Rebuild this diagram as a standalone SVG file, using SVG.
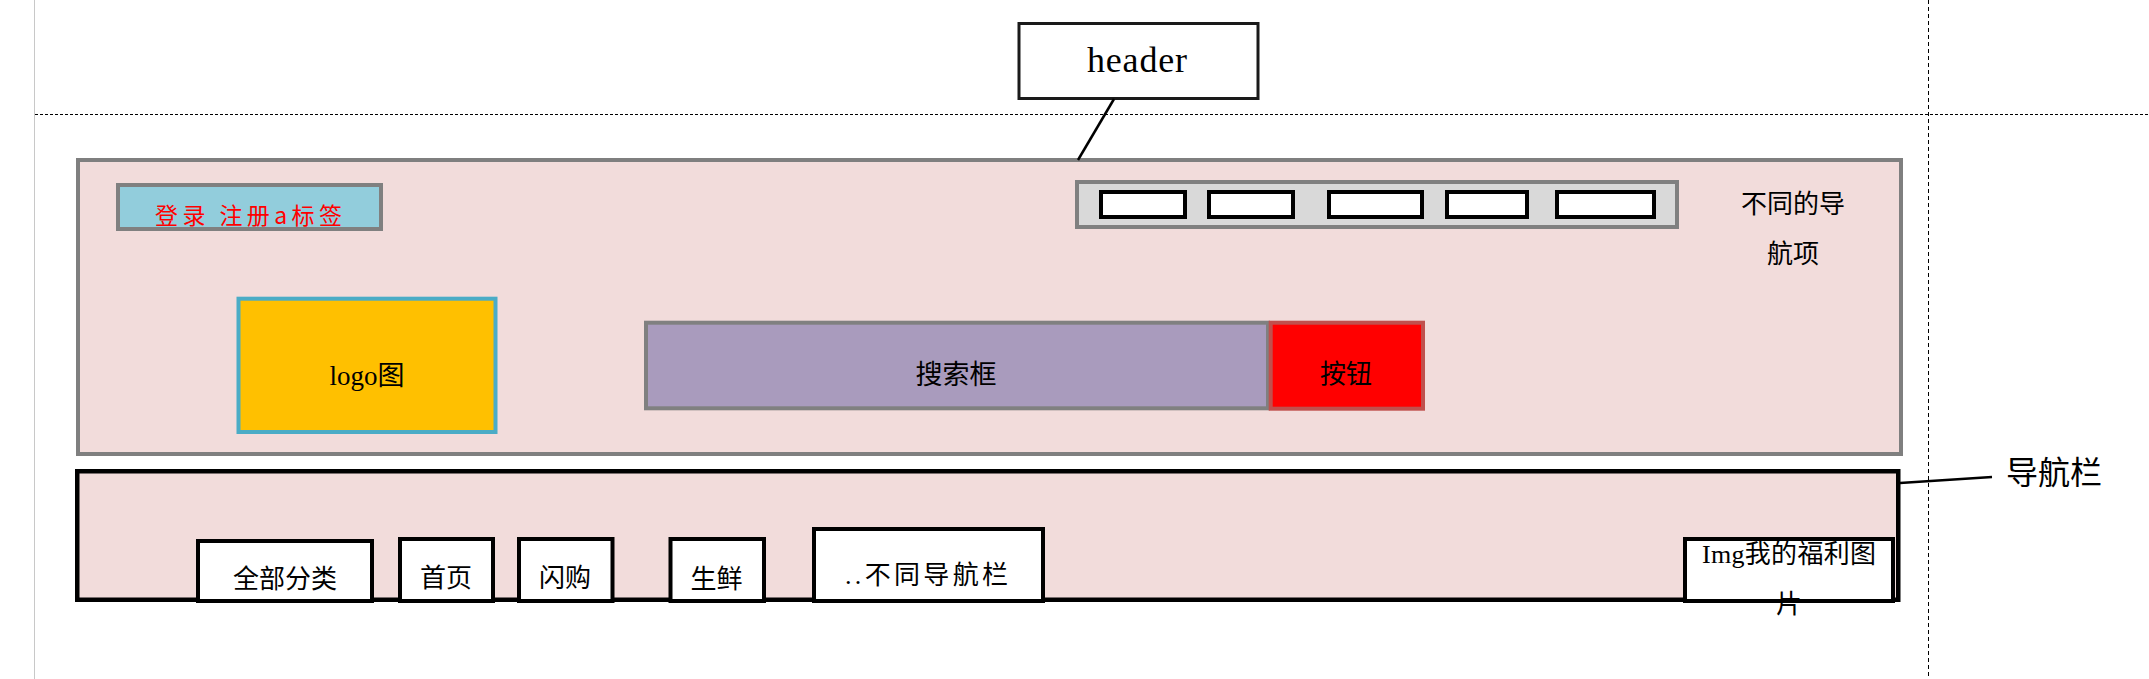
<svg xmlns="http://www.w3.org/2000/svg" width="2149" height="679" viewBox="0 0 2149 679">
<style>
.t{font-family:"Liberation Serif","Noto Sans CJK SC",serif;fill:#000;text-anchor:middle}
.c{font-family:"Noto Sans CJK SC",sans-serif;fill:#000;text-anchor:middle}
.item{fill:#fff;stroke:#000;stroke-width:4}
.pink{fill:#F2DCDB}
.conn{stroke:#000;stroke-width:2.5;fill:none}
</style>
<rect x="0" y="0" width="2149" height="679" fill="#fff"/>
<g id="guides">
<line x1="34.5" y1="0" x2="34.5" y2="679" stroke="#C8C8C8" stroke-width="1"/>
<line x1="35" y1="114.5" x2="2149" y2="114.5" stroke="#000" stroke-width="1" stroke-dasharray="3 2"/>
<line x1="1928.5" y1="0" x2="1928.5" y2="679" stroke="#000" stroke-width="1" stroke-dasharray="4 3"/>
</g>
<g id="header-label">
<rect x="1019" y="23.5" width="239" height="75" fill="#fff" stroke="#1a1a1a" stroke-width="3"/>
<text class="t" x="1137" y="71.5" font-size="36" textLength="100" lengthAdjust="spacing">header</text>
</g>
<g id="header-box">
<rect class="pink" x="78" y="160" width="1823" height="294" stroke="#7F7F7F" stroke-width="4"/>
</g>
<g id="login">
<rect x="118" y="185" width="263" height="44" fill="#92CDDC" stroke="#808080" stroke-width="4"/>
<text class="c" x="248.5" y="224" font-size="23" style="fill:#FF0000" textLength="187" lengthAdjust="spacing">登录 注册a标签</text>
</g>
<g id="nav-items-top">
<rect x="1077" y="182" width="600" height="45" fill="#D9D9D9" stroke="#808080" stroke-width="4"/>
<rect class="item" x="1101" y="192" width="84" height="25"/>
<rect class="item" x="1209" y="192" width="84" height="25"/>
<rect class="item" x="1329" y="192" width="93" height="25"/>
<rect class="item" x="1447" y="192" width="80" height="25"/>
<rect class="item" x="1557" y="192" width="97" height="25"/>
</g>
<g id="nav-note">
<text class="c" x="1793" y="212.5" font-size="26">不同的导</text>
<text class="c" x="1793" y="262.5" font-size="26">航项</text>
</g>
<g id="logo">
<rect x="238.5" y="298.7" width="257" height="133.3" fill="#FFC000" stroke="#4BACC6" stroke-width="4"/>
<text class="t" x="367" y="384.5" font-size="27">logo图</text>
</g>
<g id="search">
<rect x="646" y="322.7" width="622" height="85.6" fill="#A99BBD" stroke="#808080" stroke-width="4"/>
<text class="c" x="956" y="383.5" font-size="27">搜索框</text>
</g>
<g id="button">
<rect x="1270.7" y="322.7" width="152.3" height="86" fill="#FF0000" stroke="#C0504D" stroke-width="4"/>
<text class="c" x="1346" y="382.5" font-size="26">按钮</text>
</g>
<g id="navbar">
<rect class="pink" x="77.25" y="471.25" width="1821" height="128.5" stroke="#000" stroke-width="4.5"/>
</g>
<g id="nav-all">
<rect class="item" x="198" y="541" width="174" height="60"/>
<text class="c" x="285" y="587.5" font-size="26">全部分类</text>
</g>
<g id="nav-home">
<rect class="item" x="400" y="539" width="93" height="62"/>
<text class="c" x="446" y="586.5" font-size="26">首页</text>
</g>
<g id="nav-flash">
<rect class="item" x="519" y="539" width="93.5" height="62"/>
<text class="c" x="565" y="586.5" font-size="26">闪购</text>
</g>
<g id="nav-fresh">
<rect class="item" x="670.5" y="539" width="93.5" height="62"/>
<text class="c" x="716.5" y="588" font-size="26">生鲜</text>
</g>
<g id="nav-more">
<rect class="item" x="814" y="529" width="229" height="72"/>
<text class="t" x="926.5" y="583.5" font-size="26" textLength="163" lengthAdjust="spacing">..不同导航栏</text>
</g>
<g id="nav-img">
<rect class="item" x="1685" y="539" width="208" height="62"/>
<text class="t" x="1789" y="562.5" font-size="26" textLength="174" lengthAdjust="spacing">Img我的福利图</text>
<text class="c" x="1789" y="612.5" font-size="26">片</text>
</g>
<g id="nav-label">
<text class="c" x="2054" y="483.5" font-size="32">导航栏</text>
</g>
<g id="connectors">
<line class="conn" x1="1114" y1="99" x2="1078" y2="160"/>
<line class="conn" x1="1900" y1="483" x2="1992" y2="477"/>
</g>
</svg>
